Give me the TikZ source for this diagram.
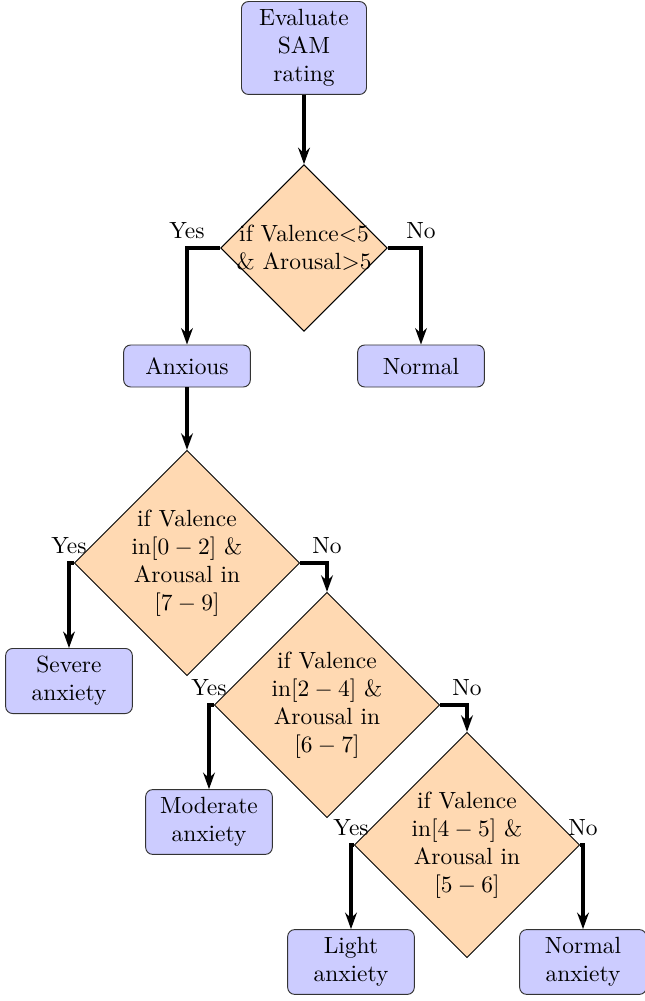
\documentclass[tikz,border=0pt]{standalone}
\usepackage{amsmath}
\usepackage{xcolor}
\usepackage{tikz}
\usetikzlibrary{positioning, arrows.meta, shapes.geometric}

\begin{document}
\begin{tikzpicture}[node distance=3cm, on grid,
    block/.style={rectangle, rounded corners=3pt, draw=black!80, fill=blue!20, minimum width=1.9cm, minimum height=0.63cm, align=center},
    decision/.style={diamond, aspect=1, draw, fill=orange!30, inner sep=0pt, minimum size=3.38cm, align=center},
    flow/.style={-{Stealth[length=7pt, width=5pt]}, line width=1.3pt}]
    \useasboundingbox (-4.56,0.72) rectangle (5.115,-14.295);

    \node (rating) [block, minimum width=1.875cm, minimum height=1.365cm] {Evaluate\\SAM\\rating};
    \node (check) [decision, inner sep=-1.5pt, minimum size=2.5cm, below=3cm of rating] {if Valence$<$5\\\& Arousal$>$5};
    \node (anxious) [block, below left=1.77cm and 1.755cm of check] {Anxious};
    \node (normal) [block, below right=1.77cm and 1.755cm of check] {Normal};

    \node (severecheck) [decision, below=2.955cm of anxious] {if Valence\\in$[0-2]$ \&\\Arousal in\\$[7-9]$};
    \node (severe) [block, below left=1.77cm and 1.77cm of severecheck] {Severe\\anxiety};
    \node (moderatecheck) [decision, below right=2.13cm and 2.1cm of severecheck] {if Valence\\in$[2-4]$ \&\\Arousal in\\$[6-7]$};
    \node (moderate) [block, below left=1.755cm and 1.77cm of moderatecheck] {Moderate\\anxiety};
    \node (lightcheck) [decision, below right=2.1cm and 2.1cm of moderatecheck] {if Valence\\in$[4-5]$ \&\\Arousal in\\$[5-6]$};
    \node (light) [block, below left=1.755cm and 1.74cm of lightcheck] {Light\\anxiety};
    \node (normalanx) [block, below right=1.755cm and 1.74cm of lightcheck] {Normal\\anxiety};

    \draw[flow] (rating) -- (check);
    \draw[flow] (check.west) -| node[pos=0.5, above] {Yes} (anxious.north);
    \draw[flow] (check.east) -| node[pos=0.5, above] {No} (normal.north);
    \draw[flow] (anxious) -- (severecheck);
    \draw[flow] (severecheck.west) -| node[pos=0.5, above] {Yes} (severe.north);
    \draw[flow] (severecheck.east) -| node[pos=0.5, above] {No} (moderatecheck.north);
    \draw[flow] (moderatecheck.west) -| node[pos=0.5, above] {Yes} (moderate.north);
    \draw[flow] (moderatecheck.east) -| node[pos=0.5, above] {No} (lightcheck.north);
    \draw[flow] (lightcheck.west) -| node[pos=0.5, above] {Yes} (light.north);
    \draw[flow] (lightcheck.east) -| node[pos=0.5, above] {No} (normalanx.north);
\end{tikzpicture}
\end{document}
